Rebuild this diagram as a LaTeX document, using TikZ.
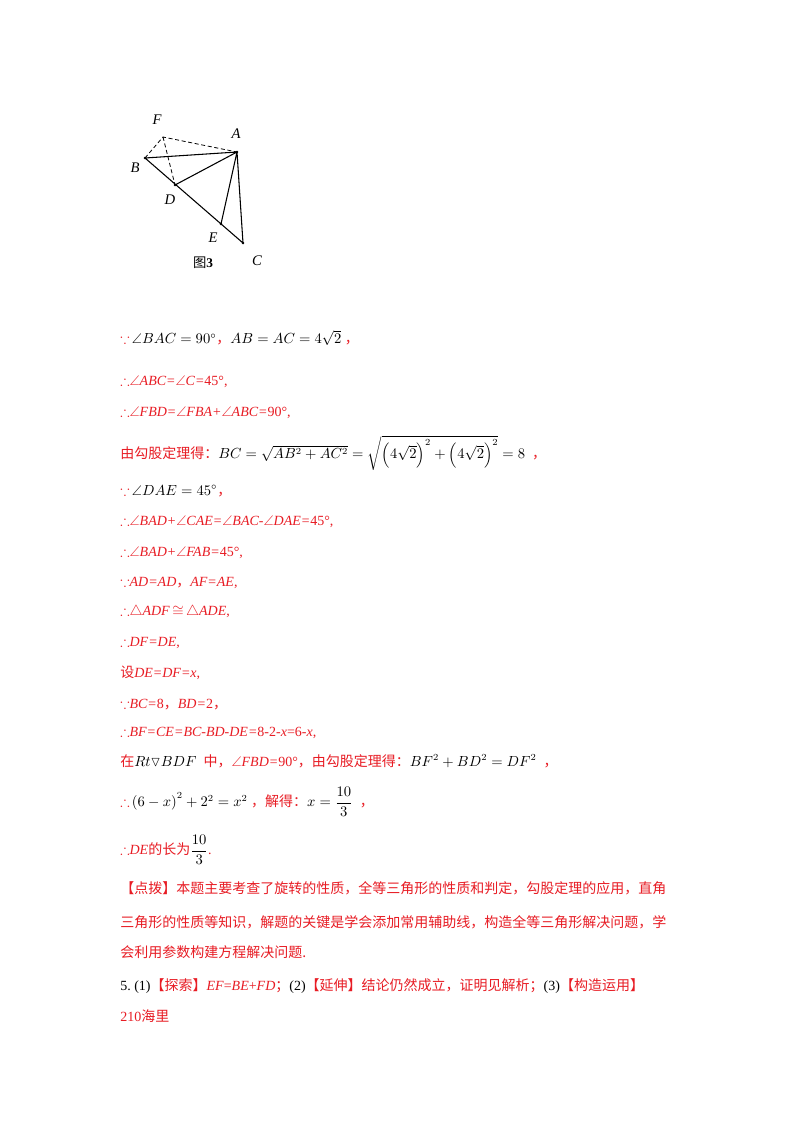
\documentclass[tikz,border=0pt]{standalone}
\usepackage{amsmath,amssymb}
\usepackage{fontspec}
\setmainfont{Liberation Serif}
\newfontfamily\cjk{Noto Sans CJK SC}
\definecolor{rd}{RGB}{232,28,36}
\newcommand\tf{\ensuremath{\therefore}}
\newcommand\bc{\ensuremath{\because}}
\newcommand\ang{\ensuremath{\angle}}
\newcommand\tri{\ensuremath{\triangle}}
\newcommand\cng{\ensuremath{\,\cong\,}}
\begin{document}
\begin{tikzpicture}[x=0.75pt,y=-0.75pt,
  ln/.style={node font=\fontsize{10.5}{12}\selectfont, anchor=west, inner sep=0pt, text=rd},
  lbl/.style={node font=\fontsize{11}{12}\selectfont\itshape, inner sep=0pt},
  seg/.style={line width=0.8pt},
  dsh/.style={line width=0.6pt, dashed, dash pattern=on 3pt off 2pt}]
\useasboundingbox (0,0) rectangle (800,1132);
\fill[white] (0,0) rectangle (800,1132);
% figure
\coordinate (F) at (163,137); \coordinate (A) at (237,152);
\coordinate (B) at (145,158); \coordinate (D) at (175,185);
\coordinate (E) at (221,224); \coordinate (C) at (243,243);
\draw[seg] (B)--(C)--(A)--(B) (A)--(D) (A)--(E);
\draw[dsh] (B)--(F)--(A) (F)--(D);
\foreach \p in {A,B,D,E,C} \fill (\p) circle (1.3);
\node[lbl] (lF) at (157,120) {F};
\node[lbl] (lA) at (236,134) {A};
\node[lbl] (lB) at (135,168) {B};
\node[lbl] (lD) at (170,200) {D};
\node[lbl] (lE) at (213,238) {E};
\node[lbl] (lC) at (257,261) {C};
\node[inner sep=0pt, font=\fontsize{10}{12}\selectfont] (cap) at (203,263) {{\cjk 图}\textbf{3}};
% text
\node[ln] (t1) at (120,338) {\bc\,\textcolor{black}{$\angle BAC=90^\circ$}{\cjk ，}\textcolor{black}{$AB=AC=4\sqrt2$}\ {\cjk ，}};
\node[ln] (t2) at (120,382) {\textit{\tf\ang ABC=\ang C=}45°,};
\node[ln] (t3) at (120,413) {\textit{\tf\ang FBD=\ang FBA+\ang ABC=}90°,};
\node[ln] (t4) at (120,453) {{\cjk 由勾股定理得：}\textcolor{black}{$BC=\sqrt{AB^2+AC^2}=\sqrt{\left(4\sqrt2\right)^2+\left(4\sqrt2\right)^2}=8$}\ \ {\cjk ，}};
\node[ln] (t5) at (120,491) {\bc\,\textcolor{black}{$\angle DAE=45^\circ$}{\cjk ，}};
\node[ln] (t6) at (120,522) {\textit{\tf\ang BAD+\ang CAE=\ang BAC-\ang DAE=}45°,};
\node[ln] (t7) at (120,553) {\textit{\tf\ang BAD+\ang FAB=}45°,};
\node[ln] (t8) at (120,583) {\textit{\bc AD=AD}{\cjk ，}\textit{AF=AE},};
\node[ln] (t9) at (120,612) {\textit{\tf\tri ADF}\cng\textit{\tri ADE},};
\node[ln] (t10) at (120,643) {\textit{\tf DF=DE},};
\node[ln] (t11) at (120,673) {{\cjk 设}\textit{DE=DF=x},};
\node[ln] (t12) at (120,704) {\textit{\bc BC=}8{\cjk ，}\textit{BD=}2{\cjk ，}};
\node[ln] (t13) at (120,733) {\textit{\tf BF=CE=BC-BD-DE=}8-2-\textit{x}=6-\textit{x},};
\node[ln] (t14) at (120,761) {{\cjk 在}\textcolor{black}{$Rt\triangledown BDF$}\ \ {\cjk 中，}\textit{\ang FBD=}90°{\cjk ，由勾股定理得：}\textcolor{black}{$BF^2+BD^2=DF^2$}\ \ {\cjk ，}};
\node[ln] (t15) at (120,802) {\tf\,\textcolor{black}{$\left(6-x\right)^2+2^2=x^2$}\ {\cjk ，解得：}\textcolor{black}{$x=\dfrac{10}{3}$}\ \ {\cjk ，}};
\node[ln] (t16) at (120,850) {\textit{\tf DE}{\cjk 的长为}\textcolor{black}{$\dfrac{10}{3}$}.};
\node[ln] (t17) at (120,888) {{\cjk 【点拨】本题主要考查了旋转的性质，全等三角形的性质和判定，勾股定理的应用，直角}};
\node[ln] (t18) at (120,922) {{\cjk 三角形的性质等知识，解题的关键是学会添加常用辅助线，构造全等三角形解决问题，学}};
\node[ln] (t19) at (120,952) {{\cjk 会利用参数构建方程解决问题.}};
\node[ln] (t20) at (120,986) {\textcolor{black}{5.\ (1)}{\cjk 【探索】}\textit{EF}=\textit{BE}+\textit{FD}{\cjk ；}\textcolor{black}{(2)}{\cjk 【延伸】结论仍然成立，证明见解析；}\textcolor{black}{(3)}{\cjk 【构造运用】}};
\node[ln] (t21) at (120,1016) {210{\cjk 海里}};
\end{tikzpicture}
\end{document}
